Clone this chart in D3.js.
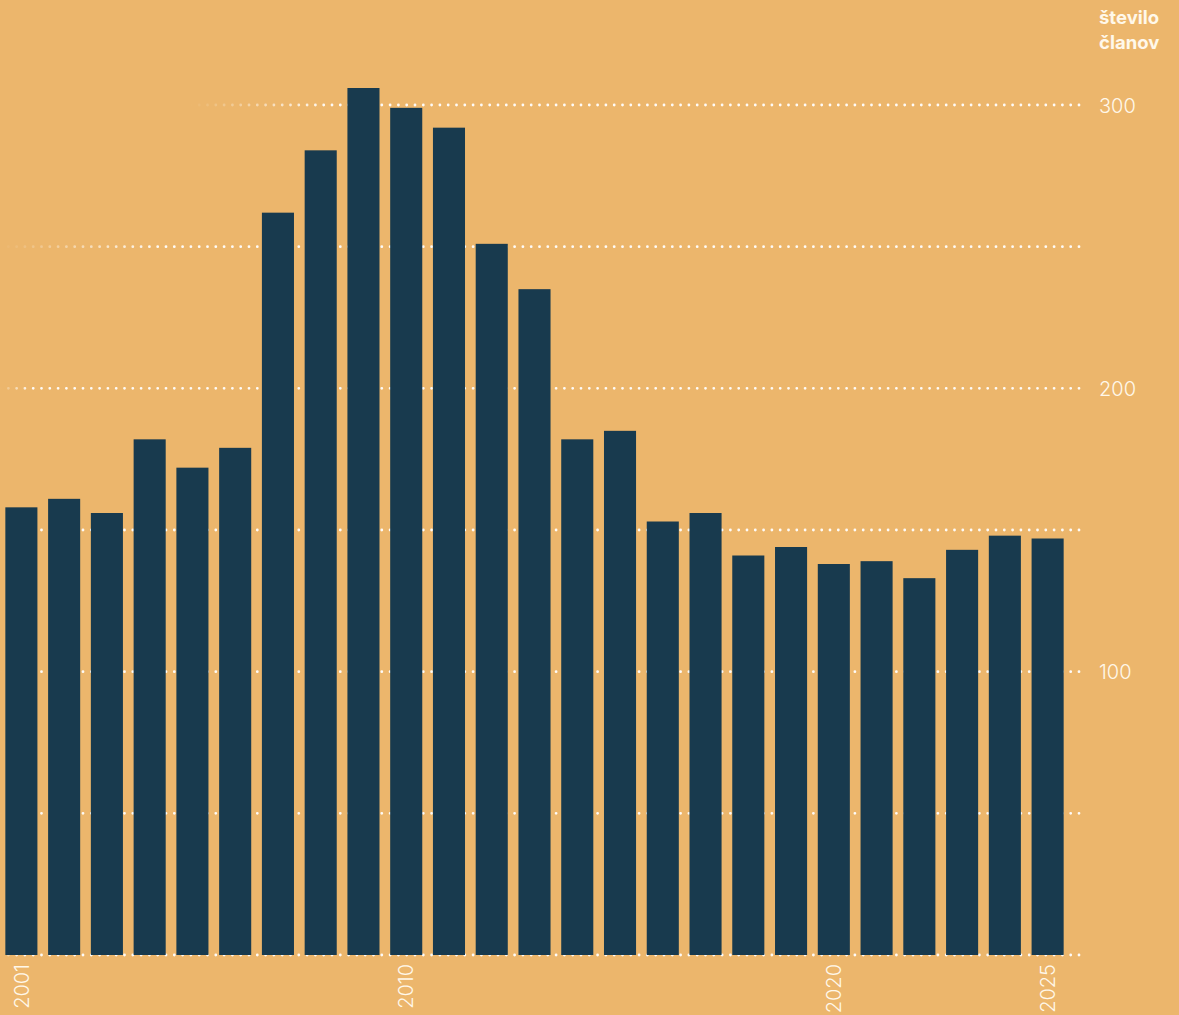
<!DOCTYPE html>
<html>
<head>
<meta charset="utf-8">
<script src="https://cdn.jsdelivr.net/npm/d3@7"></script>
<style>
  html, body { margin: 0; padding: 0; background: #ecb66c; }
  svg { display: block; }
</style>
</head>
<body>
<div id="chart"></div>
<script>
// leta in število članov
const years = d3.range(2001, 2026);
const members = [158, 161, 156, 182, 172, 179, 262, 284, 306, 299, 292, 251, 235,
                 182, 185, 153, 156, 141, 144, 138, 139, 133, 143, 148, 147];
const gridValues = [0, 50, 100, 150, 200, 250, 300];
const tickLabels = [100, 200, 300];
const yearLabels = [2001, 2010, 2020, 2025];

const width = 1179;
const height = 1015;
const font = "Inter, 'Open Sans', sans-serif";

const svg = d3.select("#chart")
    .append("svg")
    .attr("width", width)
    .attr("height", height);

svg.append("rect")
    .attr("width", width)
    .attr("height", height)
    .attr("fill", "#ecb66c");

const x = d3.scaleBand()
    .domain(years)
    .range([0, 1069])
    .paddingInner(0.25)
    .paddingOuter(0.125);

const y = d3.scaleLinear()
    .domain([0, 300])
    .range([955, 105]);

// fade in from the left (different per line, as in the original)
const fade = {0: [0, 20], 50: [0, 40], 100: [0, 40], 150: [0, 40], 200: [0, 30], 250: [0, 160], 300: [190, 330]};
const defs = svg.append("defs");
gridValues.forEach(v => {
    const g = defs.append("linearGradient")
        .attr("id", "fade" + v)
        .attr("gradientUnits", "userSpaceOnUse")
        .attr("x1", fade[v][0]).attr("x2", fade[v][1])
        .attr("y1", 0).attr("y2", 0);
    g.append("stop").attr("offset", 0).attr("stop-color", "#fff").attr("stop-opacity", 0);
    g.append("stop").attr("offset", 1).attr("stop-color", "#fff").attr("stop-opacity", 0.95);
});

svg.append("g")
    .selectAll("line")
    .data(gridValues)
    .join("line")
    .attr("x1", 0)
    .attr("x2", 1086)
    .attr("y1", d => y(d))
    .attr("y2", d => y(d))
    .attr("stroke", d => `url(#fade${d})`)
    .attr("stroke-width", 2.8)
    .attr("stroke-linecap", "round")
    .attr("stroke-dasharray", "0 8.3");

svg.append("g")
    .selectAll("rect")
    .data(members)
    .join("rect")
    .attr("x", (d, i) => x(years[i]))
    .attr("width", x.bandwidth())
    .attr("y", d => y(d))
    .attr("height", d => y(0) - y(d))
    .attr("fill", "#183a4e");

// y oznake desno
const yAxis = d3.axisRight(y)
    .tickValues(tickLabels)
    .tickSize(0)
    .tickPadding(0);

const yg = svg.append("g")
    .attr("transform", "translate(1099,0)")
    .call(yAxis);
yg.select(".domain").remove();
yg.selectAll("text")
    .attr("fill", "#fff8ea")
    .attr("font-family", font)
    .attr("font-weight", 300)
    .attr("font-size", 20)
    .attr("dy", "0.36em");

svg.append("text")
    .attr("x", 1099)
    .attr("y", 24)
    .attr("fill", "#fff8ea")
    .attr("font-family", font)
    .attr("font-weight", 700)
    .attr("font-size", 18.5)
    .selectAll("tspan")
    .data(["število", "članov"])
    .join("tspan")
    .attr("x", 1099)
    .attr("dy", (d, i) => i === 0 ? 0 : 25)
    .text(d => d);

// letnice spodaj
const xAxis = d3.axisBottom(x)
    .tickValues(yearLabels)
    .tickSize(0)
    .tickPadding(0);

const xg = svg.append("g")
    .attr("transform", "translate(0,964)")
    .call(xAxis);
xg.select(".domain").remove();
xg.selectAll("text")
    .attr("fill", "#fff8ea")
    .attr("font-family", font)
    .attr("font-weight", 300)
    .attr("font-size", 20)
    .attr("transform", "rotate(-90)")
    .attr("text-anchor", "end")
    .attr("x", 0)
    .attr("y", 0)
    .attr("dy", "0.36em");
</script>
</body>
</html>
